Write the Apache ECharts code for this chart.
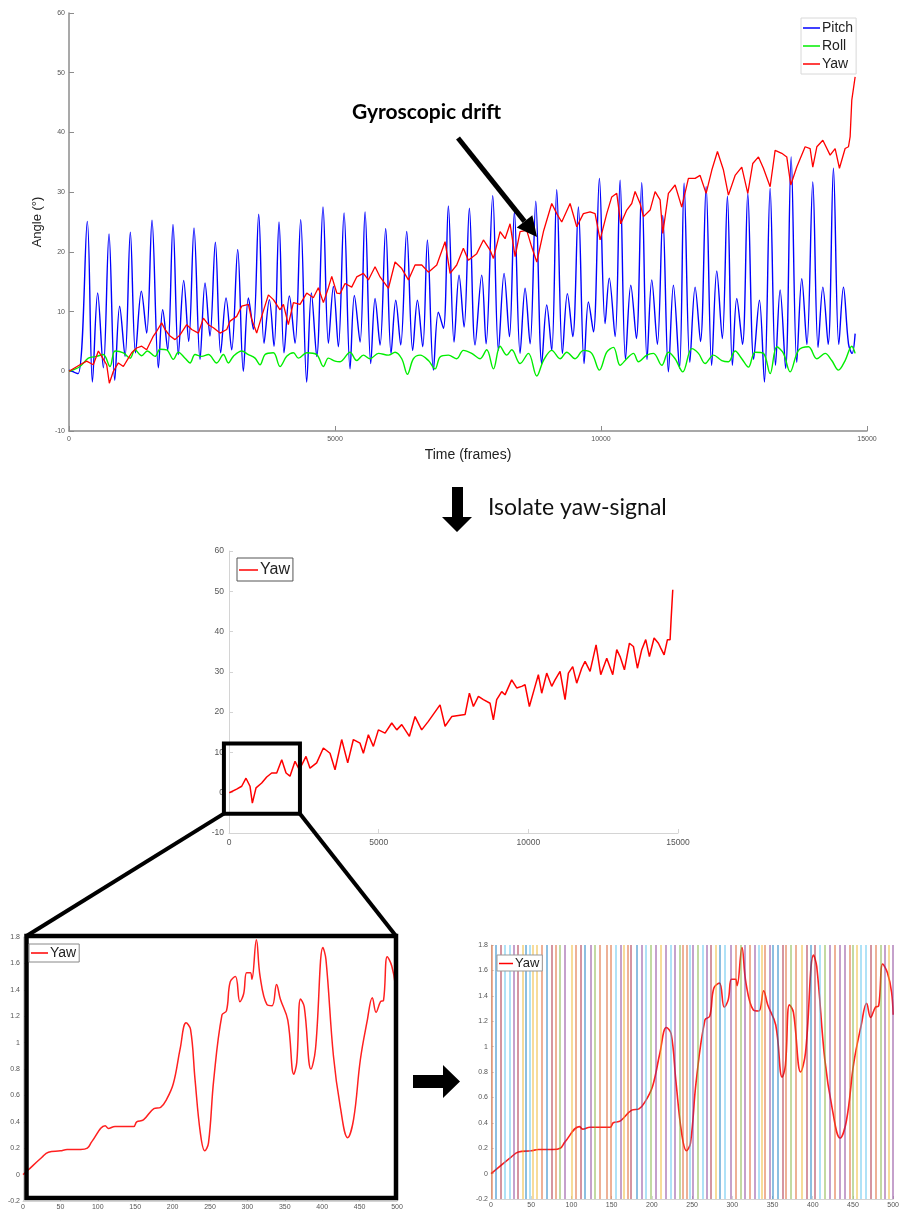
<!DOCTYPE html>
<html>
<head>
<meta charset="utf-8">
<script src="https://cdn.jsdelivr.net/npm/echarts@6/dist/echarts.min.js"></script>
<style>
  html, body { margin: 0; padding: 0; background: #fff; }
  #chart { width: 902px; height: 1211px; }
</style>
</head>
<body>
<div id="chart"></div>
<script>
// ---- IMU orientation recording: [frame, angle in degrees] ----
const pitch = [
  [0,0.2],[170,-0.4],[344,25.1],[440,-1.8],[539,13.1],[645,0.6],[752,23.0],[860,-1.5],[952,10.9],[1053,2.5],
  [1153,23.3],[1250,3.1],[1360,13.4],[1460,6.4],[1560,25.3],[1680,0.6],[1761,10.3],[1855,3.6],[1955,24.6],[2055,2.8],
  [2156,15.2],[2250,5.0],[2350,24.0],[2463,2.0],[2557,14.8],[2650,5.9],[2751,21.6],[2851,3.1],[2952,12.3],[3058,3.6],
  [3171,20.4],[3277,0],[3372,12.3],[3465,7.0],[3566,26.3],[3666,4.7],[3766,12.0],[3854,4.2],[3948,25.0],[4042,3.1],
  [4142,12.6],[4249,4.7],[4355,25.4],[4468,-1.8],[4556,13.1],[4656,2.5],[4775,27.5],[4876,4.7],[4970,14.2],[5063,4.1],
  [5170,26.5],[5283,0.4],[5364,12.7],[5471,4.9],[5565,26.7],[5672,1.3],[5753,12.2],[5847,4.4],[5953,23.9],[6054,3.0],
  [6142,11.9],[6235,4.4],[6348,23.4],[6460,3.5],[6549,11.9],[6649,4.1],[6737,22.0],[6850,0.2],[6943,9.9],[7038,7.2],
  [7131,27.7],[7238,4.9],[7332,16.1],[7426,7.4],[7526,27.3],[7633,4.4],[7758,16.1],[7840,4.6],[7965,29.4],[8072,3.5],
  [8178,16.4],[8279,5.8],[8372,26.7],[8479,3.0],[8573,13.9],[8667,4.6],[8774,28.5],[8886,1.3],[8980,11.1],[9074,3.5],
  [9168,30.4],[9275,3.0],[9368,13.0],[9469,5.8],[9575,27.5],[9682,1.3],[9763,11.6],[9858,6.6],[9970,32.3],[10077,8.0],
  [10155,15.6],[10265,5.8],[10359,32.0],[10460,2.0],[10560,14.4],[10665,5.5],[10766,31.6],[10865,2.0],[10954,15.3],[11060,4.5],
  [11161,26.1],[11267,-0.1],[11361,14.4],[11475,0.5],[11562,31.5],[11670,1.5],[11769,14.1],[11870,5.0],[11976,30.9],[12080,1.0],
  [12176,16.8],[12280,5.5],[12376,29.3],[12470,1.0],[12552,12.2],[12660,4.5],[12759,29.8],[12870,2.0],[12978,11.9],[13072,-1.8],
  [13179,30.6],[13280,1.0],[13367,13.6],[13470,0.5],[13574,35.9],[13680,1.5],[13774,15.5],[13870,4.5],[13981,31.7],[14080,4.0],
  [14170,14.1],[14270,4.5],[14369,34.0],[14470,4.5],[14557,14.1],[14652,4.6],[14720,3.0],[14777,6.3]
];

const roll = [
  [0,0],[207,0.8],[363,2.2],[520,2.5],[645,2.8],[771,0.8],[865,3.4],[1022,3.1],[1147,2.2],[1241,3.6],
  [1366,2.6],[1473,3.4],[1617,2.5],[1711,3.7],[1836,3.6],[1961,2.0],[2055,3.2],[2181,2.2],[2275,1.4],[2369,2.8],
  [2494,2.5],[2620,2.8],[2776,1.4],[2902,2.8],[2996,1.4],[3089,2.5],[3246,3.4],[3372,2.8],[3497,2.2],[3591,1.1],
  [3685,2.8],[3842,3.1],[3967,0.8],[4092,2.5],[4218,3.1],[4312,2.2],[4468,3.1],[4656,2.8],[4782,0.8],[4876,2.2],
  [5001,1.7],[5095,1.6],[5283,3.2],[5408,1.8],[5534,2.7],[5659,2.1],[5816,3.0],[6005,2.7],[6129,3.2],[6255,2.1],
  [6361,-0.5],[6474,2.1],[6600,2.7],[6756,1.8],[6881,0.4],[6975,2.4],[7131,2.7],[7288,2.1],[7413,3.5],[7570,3.0],
  [7727,2.1],[7852,3.6],[7978,0.4],[8103,4.2],[8229,2.7],[8322,3.6],[8479,1.3],[8636,3.0],[8793,-0.8],[8918,1.8],
  [9074,3.5],[9231,2.1],[9356,3.2],[9513,2.1],[9669,3.5],[9826,3.0],[9970,0.2],[10108,3.2],[10234,4.0],[10359,1.0],
  [10484,2.1],[10610,3.0],[10704,1.6],[10860,2.7],[10986,3.0],[11142,1.0],[11267,3.2],[11393,2.1],[11537,-0.1],[11706,3.8],
  [11832,3.0],[11957,1.3],[12114,2.7],[12270,1.8],[12395,1.6],[12521,3.4],[12646,2.1],[12771,0.7],[12897,3.2],[13053,3.0],
  [13179,-0.4],[13304,4.1],[13430,3.0],[13555,-0.1],[13712,3.5],[13900,4.1],[14057,2.1],[14213,3.0],[14338,1.8],[14463,0.2],
  [14589,1.8],[14714,4.2],[14777,3.0]
];

const yaw = [
  [0,0],[207,1.1],[332,1.7],[457,1.1],[552,3.4],[614,2.5],[708,1.1],[758,-2.0],[834,0],[928,1.4],
  [1022,0.8],[1116,2.2],[1178,3.1],[1272,3.9],[1366,4.2],[1460,3.6],[1586,5.9],[1648,6.7],[1742,8.1],[1805,7.0],
  [1899,5.9],[1993,5.3],[2087,6.1],[2212,7.8],[2306,7.0],[2432,6.4],[2526,8.9],[2620,7.8],[2714,7.3],[2839,6.4],
  [2965,7.0],[3027,8.4],[3152,9.2],[3246,10.9],[3372,11.2],[3434,8.7],[3528,6.4],[3622,9.2],[3748,12.8],[3842,12.0],
  [3967,10.3],[4030,11.2],[4123,7.8],[4218,11.5],[4343,11.2],[4468,13.1],[4593,12.3],[4687,14.0],[4782,11.5],[4876,14.0],
  [4939,15.9],[5033,13.1],[5095,13.0],[5189,14.7],[5314,14.1],[5408,15.8],[5534,16.4],[5628,15.3],[5753,17.5],[5847,15.8],
  [6005,13.9],[6129,18.3],[6255,17.2],[6380,15.3],[6505,17.8],[6631,17.8],[6756,16.6],[6913,17.8],[7069,21.7],[7163,16.4],
  [7288,17.8],[7413,20.6],[7507,18.6],[7664,19.7],[7790,22.0],[7915,20.3],[7978,18.9],[8103,23.4],[8197,22.2],[8291,24.7],
  [8385,19.2],[8479,23.4],[8604,23.6],[8698,20.8],[8793,18.3],[8918,23.4],[9074,28.1],[9168,26.4],[9262,25.0],[9419,28.1],
  [9544,24.2],[9669,26.4],[9795,26.7],[9889,26.4],[9983,22.0],[10108,26.4],[10202,29.2],[10296,29.8],[10371,24.7],[10484,27.0],
  [10578,28.1],[10641,30.1],[10735,28.1],[10798,25.9],[10923,27.0],[11017,30.1],[11111,28.7],[11161,23.1],[11267,29.8],[11393,31.2],
  [11518,27.5],[11643,32.3],[11769,32.3],[11863,32.8],[11976,29.8],[12083,33.7],[12189,36.8],[12302,33.7],[12395,29.5],[12521,32.8],
  [12646,34.2],[12759,29.8],[12853,34.8],[12960,35.9],[13053,34.0],[13179,30.9],[13273,37.0],[13398,36.5],[13492,35.9],[13567,31.2],
  [13680,34.2],[13837,37.6],[13931,37.3],[13981,34.2],[14057,37.6],[14170,38.7],[14307,36.2],[14401,37.3],[14482,34.0],[14589,37.3],
  [14652,37.6],[14683,39.3],[14714,45.4],[14777,49.3]
];

// isolated yaw signal, whole recording
const yawIsolated = [
  [11,0],[256,0.9],[424,1.6],[568,3.6],[702,1.6],[780,-2.6],[903,1.2],[1092,2.4],[1260,3.9],[1426,4.9],
  [1594,4.9],[1762,8.2],[1906,4.9],[2037,4.1],[2206,7.8],[2350,5.7],[2573,9.0],[2706,6.1],[2929,7.4],[3152,11.1],
  [3375,9.8],[3542,5.7],[3765,13.2],[3966,7.4],[4155,13.2],[4377,12.3],[4489,9.8],[4656,14.4],[4823,11.5],[4991,15.6],
  [5214,14.8],[5437,17.3],[5604,15.6],[5771,16.9],[6027,14.0],[6215,18.9],[6437,15.6],[6660,17.7],[7050,21.8],[7218,16.5],
  [7441,18.9],[7886,19.4],[8031,24.7],[8165,21.4],[8332,23.9],[8499,23.1],[8722,22.2],[8832,18.1],[8943,23.1],[9110,25.1],
  [9221,24.3],[9444,28.0],[9611,26.0],[9778,26.4],[9890,26.8],[10035,21.4],[10224,26.4],[10335,29.3],[10447,24.7],[10614,29.7],
  [10781,26.4],[10892,28.0],[11060,30.1],[11227,23.1],[11338,29.7],[11483,31.3],[11616,27.2],[11783,30.9],[11895,32.6],[12062,30.1],
  [12263,36.7],[12419,29.3],[12620,33.4],[12820,29.3],[12954,35.5],[13065,33.8],[13210,30.5],[13377,37.1],[13510,36.3],[13644,30.9],
  [13789,35.5],[13922,38.0],[14045,33.8],[14201,38.4],[14346,37.1],[14424,35.9],[14536,34.2],[14647,38.0],[14736,38.0],[14769,42.9],
  [14825,50.4]
];

// first 500 frames of the yaw signal
const yawWindow = [
  [0,0.0],[5,0.025],[25,0.13],[34,0.17],[50,0.18],[59,0.19],[77,0.19],[86,0.2],[92,0.25],[110,0.37],
  [114,0.35],[123,0.365],[148,0.365],[152,0.40],[161,0.415],[175,0.50],[184,0.51],[192,0.57],[201,0.69],[210,0.95],
  [218,1.15],[224,1.10],[230,0.72],[237,0.32],[243,0.18],[248,0.24],[255,0.72],[266,1.21],[272,1.24],[277,1.46],
  [284,1.50],[290,1.31],[295,1.37],[299,1.53],[304,1.53],[306,1.48],[312,1.78],[317,1.50],[326,1.29],[333,1.28],
  [339,1.44],[344,1.33],[354,1.17],[362,0.76],[366,0.85],[371,1.33],[376,1.27],[385,0.80],[391,0.95],[401,1.72],
  [405,1.63],[415,0.90],[424,0.52],[434,0.28],[442,0.42],[451,0.87],[460,1.16],[467,1.34],[472,1.23],[478,1.31],
  [482,1.32],[487,1.65],[493,1.58],[498,1.43],[500,1.25]
];

// segment boundaries (frame) and the cluster each segment was assigned to
const segmentFrames = [
  1,6,12,17,23,28,33,39,43,48, 52,57,63,69,75,80,86,92,100,105,
  111,117,124,129,135,144,149,155,161,165, 170,174,181,187,193,199,205,211,217,223,
  229,235,239,243,247,251,257,263,268,273, 279,285,291,298,304,310,315,322,328,333,
  336,340,346,350,356,363,367,373,379,386, 392,398,403,409,415,421,428,434,440,446,
  450,455,460,466,472,478,485,489,495,500
];
const segmentCluster = [
  1,0,6,5,5,3,6,2,0,5, 2,2,1,0,6,1,4,3,2,1,
  6,0,3,4,1,1,1,5,3,2, 1,6,0,3,5,4,3,2,3,5,
  3,4,1,1,5,3,4,5,3,6, 2,0,5,3,1,4,3,1,3,5,
  2,1,3,0,0,6,1,4,1,2, 6,0,6,5,4,3,1,3,3,1,
  4,2,5,5,6,1,4,3,2,3
];

// region of the isolated signal that is enlarged below: frames, degrees
const zoomFrames = [-170, 2370];
const zoomAngles = [-5.2, 12.2];

const frameTicks = { min: 0, max: 15000, step: 5000 };
const angleTicks = { min: -10, max: 60, step: 10 };
const windowFrameTicks = { min: 0, max: 500, step: 50 };
const windowAngleTicks = { min: -0.2, max: 1.8, step: 0.2 };

// ---- drawing ----
const clusterColors = ['#0072BD', '#D95319', '#EDB120', '#7E2F8E', '#77AC30', '#4DBEEE', '#A2142F'];
const AXIS_FONT = '"Liberation Sans", Arial, sans-serif';
const NOTE_FONT = 'Lato, "Open Sans", sans-serif';

function valueAxis(grid, ticks, o) {
  return Object.assign({
    gridIndex: grid, type: 'value',
    min: ticks.min, max: ticks.max, interval: ticks.step,
    axisLine: { show: true, onZero: false, lineStyle: { color: o.line, width: o.lineWidth || 1 } },
    axisTick: { show: true, inside: true, length: o.tick || 4, lineStyle: { color: o.line } },
    axisLabel: { fontFamily: AXIS_FONT, fontSize: o.font, color: '#555', margin: o.margin || 4,
                 formatter: v => String(+v.toFixed(1)) },
    splitLine: { show: false }
  }, o.extra || {});
}

function legendBox(names, left, top, font, lineW, border, pad) {
  return {
    data: names, orient: 'vertical', left: left, top: top, z: 20, zlevel: 1,
    backgroundColor: '#fff', borderColor: border, borderWidth: 1, borderRadius: 0,
    padding: pad, itemGap: 3, itemWidth: lineW, itemHeight: 1.5, icon: 'rect',
    textStyle: { fontFamily: AXIS_FONT, fontSize: font, color: '#222', padding: [0, 0, 0, -3] },
    selectedMode: false
  };
}

const chart = echarts.init(document.getElementById('chart'), null, { renderer: 'canvas' });

const option = {
  animation: false,
  backgroundColor: '#fff',
  grid: [
    { left: 69, top: 13, width: 798, height: 418 },
    { left: 229, top: 551, width: 449, height: 282 },
    { left: 23, top: 937, width: 374, height: 264 },
    { left: 491, top: 945, width: 410, height: 254 }
  ],
  xAxis: [
    valueAxis(0, frameTicks, { line: '#8c8c8c', lineWidth: 1.5, font: 7, tick: 5, margin: 5,
      extra: { name: 'Time (frames)', nameLocation: 'middle', nameGap: 17,
               nameTextStyle: { fontFamily: AXIS_FONT, fontSize: 14, color: '#222' } } }),
    valueAxis(1, frameTicks, { line: '#d4d4d4', font: 8.5, tick: 4, margin: 5 }),
    valueAxis(2, windowFrameTicks, { line: '#d4d4d4', font: 7, tick: 3, margin: 3 }),
    valueAxis(3, windowFrameTicks, { line: '#d4d4d4', font: 7, tick: 3, margin: 3 })
  ],
  yAxis: [
    valueAxis(0, angleTicks, { line: '#8c8c8c', lineWidth: 1.5, font: 7, tick: 5, margin: 4,
      extra: { name: 'Angle (°)', nameLocation: 'middle', nameGap: 21, nameRotate: 90,
               nameTextStyle: { fontFamily: AXIS_FONT, fontSize: 13, color: '#222' } } }),
    valueAxis(1, angleTicks, { line: '#d4d4d4', font: 8.5, tick: 4, margin: 5 }),
    valueAxis(2, windowAngleTicks, { line: '#d4d4d4', font: 7, tick: 3, margin: 3 }),
    valueAxis(3, windowAngleTicks, { line: '#d4d4d4', font: 7, tick: 3, margin: 3 })
  ],
  legend: [
    Object.assign(legendBox(['Pitch', 'Roll', 'Yaw'], 801, 18, 14, 17, '#d8d8d8', [3, 3, 3, 2]),
                  { itemGap: 4 }),
    legendBox(['Yaw'], 237, 558, 16, 19, '#555', [4, 3, 3, 2]),
    legendBox(['Yaw'], 29, 944, 14, 17, '#888', [2, 3, 2, 2]),
    legendBox(['Yaw'], 497, 955, 13, 14, '#999', [2, 3, 1, 2])
  ],
  series: [
    { name: 'Pitch', type: 'line', xAxisIndex: 0, yAxisIndex: 0, data: pitch, showSymbol: false,
      smooth: 0.35, lineStyle: { color: '#0000ff', width: 1.4 }, itemStyle: { color: '#0000ff' }, z: 2 },
    { name: 'Roll', type: 'line', xAxisIndex: 0, yAxisIndex: 0, data: roll, showSymbol: false,
      smooth: 0.35, lineStyle: { color: '#00ee00', width: 1.4 }, itemStyle: { color: '#00ee00' }, z: 3 },
    { name: 'Yaw', type: 'line', xAxisIndex: 0, yAxisIndex: 0, data: yaw, showSymbol: false,
      lineStyle: { color: '#ff0000', width: 1.3 }, itemStyle: { color: '#ff0000' }, z: 4 },
    { name: 'Yaw', type: 'line', xAxisIndex: 1, yAxisIndex: 1, data: yawIsolated, showSymbol: false,
      lineStyle: { color: '#ff0000', width: 1.5 }, itemStyle: { color: '#ff0000' } },
    { name: 'Yaw', type: 'line', xAxisIndex: 2, yAxisIndex: 2, data: yawWindow, showSymbol: false,
      smooth: 0.4, lineStyle: { color: '#ff2020', width: 1.5 }, itemStyle: { color: '#ff2020' } },
    { name: 'Yaw', type: 'line', xAxisIndex: 3, yAxisIndex: 3, data: yawWindow, showSymbol: false,
      smooth: 0.4, lineStyle: { color: '#ff2020', width: 1.6 }, itemStyle: { color: '#ff2020' }, z: 2 },
    { name: 'segments', type: 'line', xAxisIndex: 3, yAxisIndex: 3, data: [], z: 3, silent: true,
      markLine: {
        silent: true, symbol: ['none', 'none'], label: { show: false }, animation: false,
        data: segmentFrames.map((f, i) => ({
          xAxis: f,
          lineStyle: { color: clusterColors[segmentCluster[i]], width: 2, opacity: 0.45, type: 'solid' }
        }))
      } }
  ]
};

chart.setOption(option);

// annotations: drift callout, step arrows and the magnified window
const boxTL = chart.convertToPixel({ gridIndex: 1 }, [zoomFrames[0], zoomAngles[1]]);
const boxBR = chart.convertToPixel({ gridIndex: 1 }, [zoomFrames[1], zoomAngles[0]]);
const frame = { x0: 26.5, y0: 936, x1: 396, y1: 1198 };

const tip = [537, 237], tail = [458, 138];
const dx = tip[0] - tail[0], dy = tip[1] - tail[1], len = Math.hypot(dx, dy);
const ux = dx / len, uy = dy / len, headL = 20, headW = 10;
const base = [tip[0] - ux * headL, tip[1] - uy * headL];

chart.setOption({
  graphic: [
    { type: 'text', left: 352, top: 102, z: 100,
      style: { text: 'Gyroscopic drift', font: 'bold 21px ' + NOTE_FONT, fill: '#000' } },
    { type: 'line', z: 100, shape: { x1: tail[0], y1: tail[1], x2: base[0], y2: base[1] },
      style: { stroke: '#000', lineWidth: 5 } },
    { type: 'polygon', z: 100,
      shape: { points: [tip, [base[0] - uy * headW, base[1] + ux * headW], [base[0] + uy * headW, base[1] - ux * headW]] },
      style: { fill: '#000' } },
    { type: 'polygon', z: 100,
      shape: { points: [[452, 487], [463, 487], [463, 517], [472, 517], [457, 532], [442, 517], [452, 517]] },
      style: { fill: '#000' } },
    { type: 'text', left: 488, top: 496, z: 100,
      style: { text: 'Isolate yaw-signal', font: '23px ' + NOTE_FONT, fill: '#111' } },
    { type: 'rect', z: 100,
      shape: { x: boxTL[0], y: boxTL[1], width: boxBR[0] - boxTL[0], height: boxBR[1] - boxTL[1] },
      style: { fill: 'none', stroke: '#000', lineWidth: 4 } },
    { type: 'line', z: 100, shape: { x1: boxTL[0], y1: boxBR[1], x2: frame.x0, y2: frame.y0 },
      style: { stroke: '#000', lineWidth: 4 } },
    { type: 'line', z: 100, shape: { x1: boxBR[0], y1: boxBR[1], x2: frame.x1, y2: frame.y0 },
      style: { stroke: '#000', lineWidth: 4 } },
    { type: 'rect', z: 100,
      shape: { x: frame.x0, y: frame.y0, width: frame.x1 - frame.x0, height: frame.y1 - frame.y0 },
      style: { fill: 'none', stroke: '#000', lineWidth: 4.5 } },
    { type: 'polygon', z: 100,
      shape: { points: [[413, 1075], [443, 1075], [443, 1065], [460, 1081.5], [443, 1098], [443, 1088], [413, 1088]] },
      style: { fill: '#000' } }
  ]
});
</script>
</body>
</html>
